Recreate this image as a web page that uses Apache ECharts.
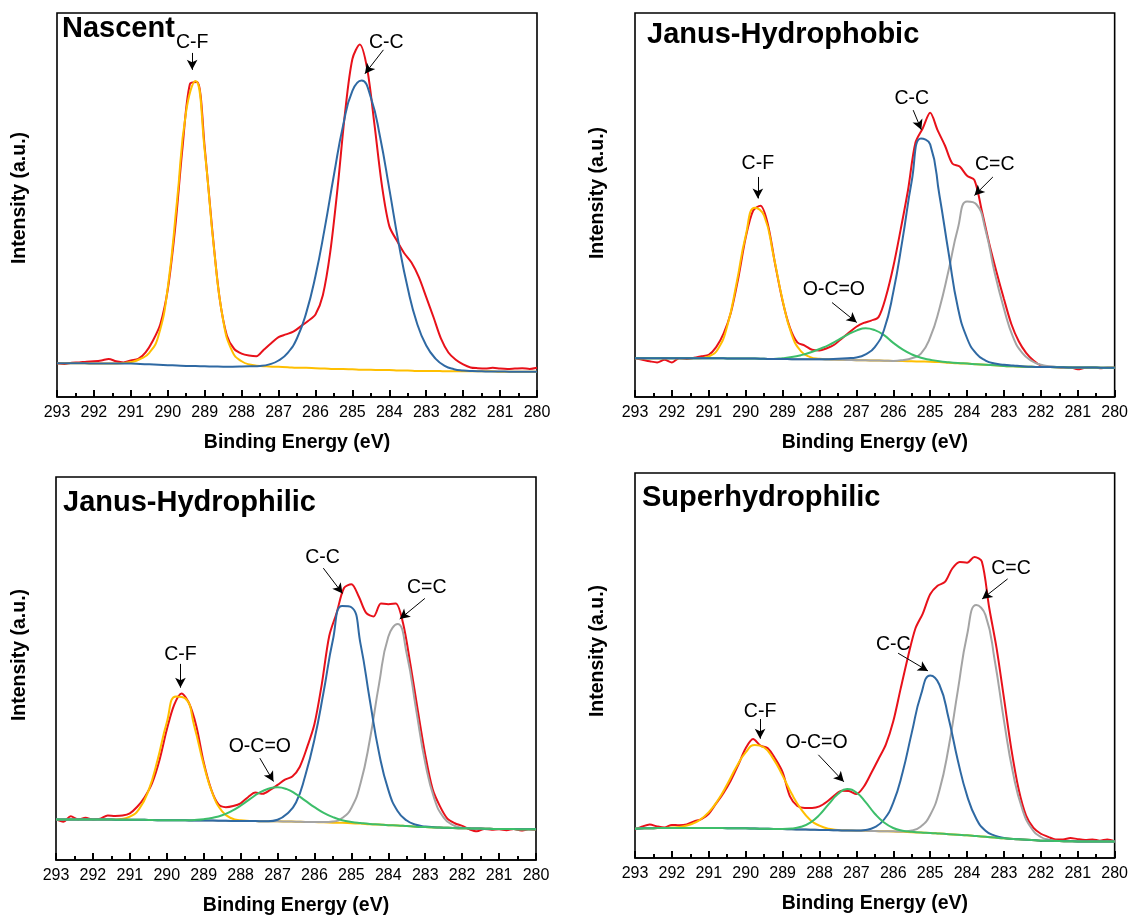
<!DOCTYPE html>
<html>
<head>
<meta charset="utf-8">
<script src="https://cdn.jsdelivr.net/npm/echarts@6/dist/echarts.min.js"></script>
<style>
  html,body{margin:0;padding:0;background:#fff}
  #chart{width:1131px;height:917px}
</style>
</head>
<body>
<div id="chart"></div>
<script>
// ===== X grids (eV) =====
const RAW_X = [293.0,292.8,292.6,292.4,292.2,292.0,291.8,291.6,291.4,291.2,291.0,290.8,290.6,290.4,290.2,290.0,289.8,289.6,289.4,289.2,
  289.0,288.8,288.6,288.4,288.2,288.0,287.8,287.6,287.4,287.2,287.0,286.8,286.6,286.4,286.2,286.0,285.8,285.6,285.4,285.2,
  285.0,284.8,284.6,284.4,284.2,284.0,283.8,283.6,283.4,283.2,283.0,282.8,282.6,282.4,282.2,282.0,281.8,281.6,281.4,281.2,
  281.0,280.8,280.6,280.4,280.2,280.0];
const FIT_X = [293,292.75,292.5,292.25,292,291.75,291.5,291.25,291,290.75,290.5,290.25,290,289.75,289.5,289.25,289,288.75,288.5,288.25,
  288,287.75,287.5,287.25,287,286.75,286.5,286.25,286,285.75,285.5,285.25,285,284.75,284.5,284.25,284,283.75,283.5,283.25,
  283,282.75,282.5,282.25,282,281.75,281.5,281.25,281,280.75,280.5,280.25,280];

// ===== Nascent =====
const NASCENT_RAW = [8.8,8.6,8.9,9.0,9.2, 9.3,9.5,9.9,9.3,9.0, 9.5,9.9,11.6,14.7,19.0, 28.0,44.0,65.0,81.5,82.0,
  65.0,44.0,26.0,16.0,12.5, 11.3,10.8,10.6,12.3,14.0, 15.6,16.3,17.0,18.4,19.8, 21.5,26.5,37.7,54.5,73.9,
  88.0,91.8,85.5,70.8,55.1, 44.5,40.8,37.5,35.0,31.2, 26.0,20.7,15.2,11.6,9.7, 8.5,7.7,7.5,7.4,7.6,
  7.4,7.3,7.4,7.5,7.3, 7.6];
const NASCENT_CF = [8.8,8.8,8.8,8.8,8.7, 8.7,8.7,8.8,9.1,9.9, 11.5,16.0,28.5,51.0,74.5, 82.3,64.2,38.8,20.0,11.8,
  9.3,8.4,8.1,7.95,7.85, 7.75,7.6,7.6,7.5,7.4, 7.3,7.3,7.2,7.1,7.1, 7.0,7.0,6.9,6.9,6.8,
  6.8,6.8,6.7,6.7,6.7, 6.7,6.7,6.7,6.6,6.6, 6.6,6.6,6.6];
const NASCENT_CC = [8.8,8.8,8.8,8.8,8.7, 8.7,8.7,8.7,8.7,8.6, 8.5,8.4,8.3,8.2,8.1, 8.05,8.0,7.95,7.9,7.9,
  7.93,8.0,8.1,8.5,9.5, 11.5,15.3,21.9,31.5,43.9, 57.8,70.8,79.7,82.4,78.0, 67.7,54.2,40.2,28.3,19.2,
  13.4,10.0,8.1,7.25,6.9, 6.75,6.7,6.65,6.65,6.6, 6.6,6.6,6.6];

// ===== Janus-Hydrophobic =====
const PHOBIC_RAW = [10.1,9.7,9.3,9.0,9.7, 9.0,10.1,9.9,10.2,10.6, 11.0,13.0,16.5,22.0,31.0, 41.5,48.5,49.8,45.0,34.5,
  25.0,18.0,14.2,13.4,12.3, 12.1,12.7,13.6,15.2,16.8, 18.3,19.3,19.9,20.8,26.1, 33.9,43.6,53.9,66.2,70.0,
  74.0,69.5,65.5,60.8,60.0, 57.6,56.5,48.5,40.0,32.5, 25.5,19.0,14.5,11.5,9.5, 8.2,7.9,7.8,7.7,7.7,
  7.2,7.6,7.7,7.5,7.6, 7.6];
const PHOBIC_CF = [10.1,10.1,10.1,10.1,10.1, 10.1,10.1,10.1,10.6,12.5, 18.5,29.5,42.0,49.3,47.2, 37.0,25.2,16.2,11.9,10.4,
  9.95,9.8,9.72,9.65,9.6, 9.55,9.5,9.45,9.4,9.35, 9.3,9.25,9.2,9.1,8.95, 8.8,8.7,8.55,8.4,8.25,
  8.1,8.0,7.9,7.85,7.8, 7.8,7.75,7.7,7.7,7.65, 7.65,7.6,7.6];
const PHOBIC_OCO = [10.1,10.1,10.1,10.1,10.1, 10.1,10.1,10.1,10.1,10.1, 10.05,10.0,10.0,10.0,9.95, 9.9,10.1,10.4,10.9,11.6,
  12.5,13.5,14.8,16.2,17.3, 17.9,17.4,16.1,14.1,12.4, 11.1,10.2,9.7,9.3,9.05, 8.85,8.7,8.55,8.4,8.25,
  8.1,8.0,7.9,7.85,7.8, 7.8,7.75,7.7,7.7,7.65, 7.65,7.6,7.6];
const PHOBIC_CC = [10.1,10.1,10.1,10.1,10.1, 10.1,10.1,10.1,10.1,10.1, 10.05,10.0,10.0,10.0,9.95, 9.9,9.9,9.85,9.85,9.8,
  9.8,9.85,9.95,10.1,10.3, 11.1,13.0,17.5,27.3,41.0, 56.2,67.3,65.8,52.6,37.5, 23.3,15.3,11.3,9.5,8.7,
  8.4,8.2,8.0,7.85,7.8, 7.8,7.75,7.7,7.7,7.65, 7.65,7.6,7.6];
const PHOBIC_CCD = [10.1,10.1,10.1,10.1,10.1, 10.1,10.1,10.1,10.1,10.1, 10.05,10.0,10.0,10.0,9.95, 9.9,9.9,9.85,9.85,9.8,
  9.8,9.75,9.7,9.65,9.6, 9.55,9.5,9.45,9.4,9.6, 10.1,11.3,15.5,23.0,33.0, 43.9,50.9,50.2,43.5,32.3,
  23.0,15.5,11.4,9.4,8.4, 8.0,7.8,7.7,7.7,7.65, 7.65,7.6,7.6];

// ===== Janus-Hydrophilic =====
const PHILIC_RAW = [10.6,10.0,11.4,10.6,11.0, 10.6,10.8,11.6,11.5,11.6, 12.2,13.9,16.4,20.0,26.0, 34.0,40.5,43.5,41.0,35.0,
  25.5,18.5,14.5,13.8,14.1, 14.8,16.4,17.6,17.3,18.3, 19.6,21.0,21.8,24.3,29.4, 35.5,46.0,58.5,64.5,71.0,
  72.0,68.8,64.5,63.6,67.0, 66.8,67.0,61.8,51.0,39.0, 27.5,18.5,14.0,10.8,9.6, 8.9,8.0,7.5,8.1,7.9,
  8.0,7.8,8.1,7.7,8.0, 7.9];
const PHILIC_CF = [10.6,10.6,10.6,10.6,10.6, 10.55,10.55,10.7,11.3,13.3, 18.0,26.1,35.9,42.7,42.2, 34.7,24.9,17.1,12.7,10.9,
  10.35,10.2,10.15,10.1,10.1, 10.05,10.0,9.95,9.9,9.85, 9.75,9.7,9.6,9.5,9.35, 9.25,9.1,9.0,8.85,8.7,
  8.6,8.5,8.45,8.35,8.3, 8.25,8.2,8.15,8.1,8.1, 8.05,8.0,8.0];
const PHILIC_OCO = [10.6,10.6,10.6,10.6,10.6, 10.55,10.55,10.5,10.5,10.5, 10.45,10.4,10.4,10.4,10.35, 10.45,10.65,11.05,11.7,12.75,
  14.2,15.9,17.5,18.6,19.0, 18.5,17.2,15.5,13.8,12.3, 11.2,10.4,9.95,9.65,9.4, 9.25,9.1,9.0,8.85,8.7,
  8.6,8.5,8.45,8.35,8.3, 8.25,8.2,8.15,8.1,8.1, 8.05,8.0,8.0];
const PHILIC_CC = [10.6,10.6,10.6,10.6,10.6, 10.55,10.55,10.5,10.5,10.5, 10.45,10.4,10.4,10.4,10.35, 10.3,10.3,10.3,10.25,10.2,
  10.2,10.2,10.15,10.1,10.5, 12.0,15.0,22.0,31.5,44.0, 57.5,66.3,66.0,56.3,41.7, 27.9,18.3,12.8,10.3,9.2,
  8.75,8.55,8.45,8.35,8.3, 8.25,8.2,8.15,8.1,8.1, 8.05,8.0,8.0];
const PHILIC_CCD = [10.6,10.6,10.6,10.6,10.6, 10.55,10.55,10.5,10.5,10.5, 10.45,10.4,10.4,10.4,10.35, 10.3,10.3,10.3,10.25,10.2,
  10.2,10.2,10.15,10.1,10.1, 10.05,10.0,9.95,9.9,9.9, 10.05,10.95,13.6,20.1,31.4, 46.0,58.3,61.6,53.8,39.5,
  25.4,15.9,11.05,9.1,8.45, 8.25,8.2,8.15,8.1,8.1, 8.05,8.0,8.0];

// ===== Superhydrophilic =====
const SUPER_RAW = [7.4,8.2,8.7,8.2,7.9, 8.6,8.5,8.7,9.5,10.1, 11.5,14.2,16.9,20.2,24.2, 28.5,30.9,29.2,28.5,25.8,
  22.3,16.0,13.5,13.0,13.0, 13.4,14.6,16.2,17.5,17.4, 16.6,18.5,22.0,25.7,29.5, 35.5,44.0,52.3,59.6,63.5,
  68.5,70.7,71.7,75.2,76.9, 76.7,78.2,77.0,65.0,54.5, 41.5,28.3,17.8,11.0,7.8, 6.3,5.5,4.8,4.8,5.2,
  4.9,4.7,4.8,4.5,4.8, 4.3];
const SUPER_CF = [7.6,7.7,7.75,7.8,7.9, 8.15,8.7,9.85,11.9,15.05, 19.15,23.7,27.45,29.35,28.7, 25.75,21.4,16.6,12.7,9.9,
  8.4,7.6,7.3,7.2,7.1, 7.05,7.0,6.95,6.9,6.8, 6.7,6.6,6.5,6.35,6.2, 6.05,5.9,5.7,5.5,5.3,
  5.1,4.95,4.8,4.65,4.5, 4.45,4.4,4.35,4.3,4.3, 4.3,4.3,4.3];
const SUPER_OCO = [7.6,7.7,7.75,7.8,7.8, 7.8,7.8,7.8,7.8,7.8, 7.75,7.75,7.7,7.65,7.6, 7.55,7.55,7.65,8.1,9.2,
  11.2,14.0,16.6,17.9,17.0, 14.5,11.5,9.2,7.8,7.1, 6.8,6.6,6.5,6.35,6.2, 6.05,5.9,5.7,5.5,5.3,
  5.1,4.95,4.8,4.65,4.5, 4.45,4.4,4.35,4.3,4.3, 4.3,4.3,4.3];
const SUPER_CC = [7.6,7.7,7.75,7.8,7.8, 7.8,7.8,7.8,7.8,7.8, 7.75,7.75,7.7,7.65,7.6, 7.55,7.5,7.45,7.4,7.35,
  7.3,7.25,7.2,7.15,7.15, 7.3,8.0,10.0,14.4,22.15, 32.5,42.4,47.4,45.0,36.3, 25.35,16.2,10.2,7.1,5.8,
  5.2,4.95,4.8,4.65,4.5, 4.45,4.4,4.35,4.3,4.3, 4.3,4.3,4.3];
const SUPER_CCD = [7.6,7.7,7.75,7.8,7.8, 7.8,7.8,7.8,7.8,7.8, 7.75,7.75,7.7,7.65,7.6, 7.55,7.5,7.45,7.4,7.35,
  7.3,7.25,7.2,7.15,7.1, 7.05,7.0,6.95,6.92,6.9, 7.15,8.2,11.15,17.55,28.7, 43.55,57.9,65.7,63.1,51.3,
  35.7,21.85,12.6,7.65,5.45, 4.7,4.4,4.35,4.3,4.3, 4.3,4.3,4.3];

// ===== Style =====
const FONT = '"Liberation Sans", Arial, Helvetica, sans-serif';
const COLORS = {raw:'#E8111A', cf:'#FFBF00', oco:'#3DBE6A', cc:'#2F69A3', ccd:'#A4A4A4'};

// ===== Panels =====
const PANELS = [
  { title:'Nascent', grid:{left:57, top:13, width:480, height:384}, titleAt:[62,29], yTitleAt:[20,198],
    raw:NASCENT_RAW, fits:[['cf',NASCENT_CF],['cc',NASCENT_CC]],
    notes:[
      {text:'C-F', label:[289.34,92.2], from:[289.34,89.6], to:[289.34,85.2]},
      {text:'C-C', label:[284.08,92.3], from:[284.16,90.4], to:[284.66,84.2]}
    ]},
  { title:'Janus-Hydrophobic', grid:{left:635, top:13, width:480, height:384}, titleAt:[647,35], yTitleAt:[598,193],
    raw:PHOBIC_RAW, fits:[['cf',PHOBIC_CF],['ccd',PHOBIC_CCD],['oco',PHOBIC_OCO],['cc',PHOBIC_CC]],
    notes:[
      {text:'C-F', label:[289.67,60.7], from:[289.67,57.3], to:[289.67,51.7]},
      {text:'O-C=O', label:[287.61,27.9], from:[287.66,24.6], to:[286.99,19.4]},
      {text:'C-C', label:[285.5,77.6], from:[285.46,74.7], to:[285.24,69.6]},
      {text:'C=C', label:[283.25,60.4], from:[283.30,57.3], to:[283.80,52.5]}
    ]},
  { title:'Janus-Hydrophilic', grid:{left:56, top:477, width:480, height:383}, titleAt:[63,503], yTitleAt:[20,655],
    raw:PHILIC_RAW, fits:[['cf',PHILIC_CF],['ccd',PHILIC_CCD],['cc',PHILIC_CC],['oco',PHILIC_OCO]],
    notes:[
      {text:'C-F', label:[289.63,53.7], from:[289.63,51.2], to:[289.63,45.0]},
      {text:'O-C=O', label:[287.48,29.6], from:[287.48,26.6], to:[287.11,20.5]},
      {text:'C-C', label:[285.78,78.9], from:[285.76,76.2], to:[285.24,69.6]},
      {text:'C=C', label:[282.96,71.2], from:[283.01,68.3], to:[283.69,62.9]}
    ]},
  { title:'Superhydrophilic', grid:{left:635, top:473, width:481, height:385}, titleAt:[642,498], yTitleAt:[598,651],
    raw:SUPER_RAW, fits:[['cf',SUPER_CF],['ccd',SUPER_CCD],['cc',SUPER_CC],['oco',SUPER_OCO]],
    notes:[
      {text:'C-F', label:[289.61,38.1], from:[289.61,36.1], to:[289.61,31.0]},
      {text:'O-C=O', label:[288.08,29.9], from:[288.03,26.8], to:[287.34,19.8]},
      {text:'C-C', label:[286.0,55.4], from:[285.87,53.2], to:[285.06,48.6]},
      {text:'C=C', label:[282.81,75.1], from:[282.9,72.5], to:[283.59,67.3]}
    ]}
];

// ===== Build option =====
const grids=[], xAxes=[], yAxes=[], series=[], graphics=[];
PANELS.forEach((p,i)=>{
  grids.push(Object.assign({show:true, borderColor:'#000', borderWidth:1.6, backgroundColor:'transparent'}, p.grid));
  xAxes.push({
    gridIndex:i, type:'value', min:280, max:293, interval:1, inverse:true,
    name:'Binding Energy (eV)', nameLocation:'middle', nameGap:36,
    nameTextStyle:{fontFamily:FONT, fontSize:19.5, fontWeight:'bold', color:'#000'},
    axisLine:{show:true, onZero:false, lineStyle:{color:'#000', width:1.6}},
    axisTick:{show:true, inside:true, length:7, lineStyle:{color:'#000', width:2}},
    minorTick:{show:true, splitNumber:2, length:4, lineStyle:{color:'#000', width:2}},
    axisLabel:{margin:8, fontFamily:FONT, fontSize:16, color:'#000'},
    splitLine:{show:false}
  });
  yAxes.push({gridIndex:i, type:'value', min:0, max:100, show:false});

  series.push({
    type:'line', xAxisIndex:i, yAxisIndex:i, symbol:'none', smooth:0.3,
    lineStyle:{color:COLORS.raw, width:2}, z:2,
    data: RAW_X.map((x,k)=>[x, p.raw[k]]),
    markLine:{
      silent:true, symbol:['none','arrow'], symbolSize:[8,10], label:{show:false},
      lineStyle:{color:'#000', width:1, type:'solid'}, emphasis:{disabled:true},
      data: p.notes.map(n=>[{coord:n.from},{coord:n.to}])
    },
    markPoint:{
      silent:true, symbol:'rect', symbolSize:1, itemStyle:{color:'rgba(0,0,0,0)'},
      label:{show:true, position:'inside', formatter:'{b}', color:'#000', fontFamily:FONT, fontSize:19.5},
      data: p.notes.map(n=>({name:n.text, coord:n.label}))
    }
  });
  p.fits.forEach(([key, arr])=>{
    series.push({
      type:'line', xAxisIndex:i, yAxisIndex:i, symbol:'none', smooth:0.5,
      lineStyle:{color:COLORS[key], width:2}, z:3,
      data: FIT_X.map((x,k)=>[x, arr[k]])
    });
  });

  graphics.push({type:'text', x:p.titleAt[0], y:p.titleAt[1],
    style:{text:p.title, fontFamily:FONT, fontSize:29, fontWeight:'bold', fill:'#000', align:'left', verticalAlign:'middle'}});
  graphics.push({type:'text', x:p.yTitleAt[0], y:p.yTitleAt[1], rotation:Math.PI/2,
    style:{text:'Intensity (a.u.)', fontFamily:FONT, fontSize:19.5, fontWeight:'bold', fill:'#000', align:'center', verticalAlign:'middle'}});
});

const chart = echarts.init(document.getElementById('chart'), null, {renderer:'canvas'});
chart.setOption({
  animation:false,
  backgroundColor:'#fff',
  textStyle:{fontFamily:FONT},
  grid:grids, xAxis:xAxes, yAxis:yAxes, series:series, graphic:graphics
});
window.addEventListener('resize', ()=>chart.resize());
</script>
</body>
</html>
